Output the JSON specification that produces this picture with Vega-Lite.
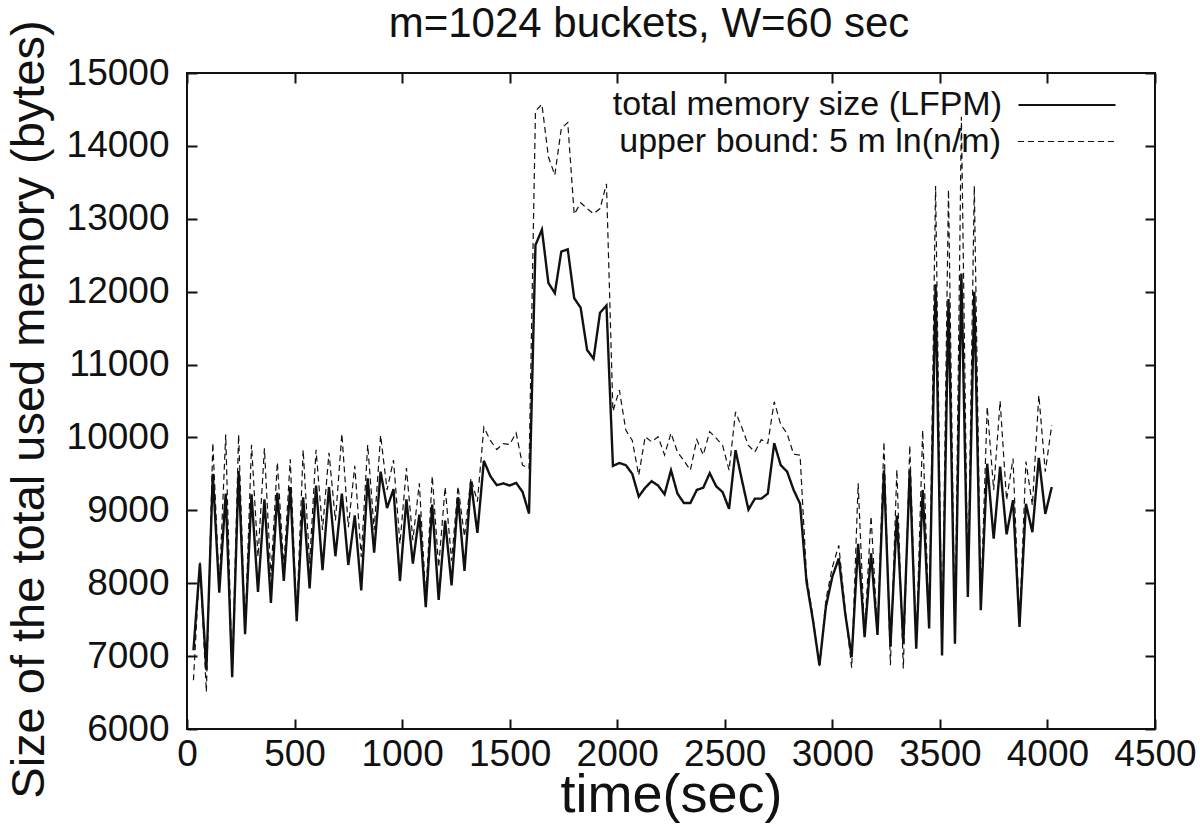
{
  "$schema": "https://vega.github.io/schema/vega-lite/v6.json",
  "autosize": {"type": "none"},
  "padding": {"left": 187, "top": 73, "right": 45, "bottom": 108},
  "width": 968,
  "height": 656,
  "background": "white",
  "config": {
    "font": "Liberation Sans",
    "view": {"stroke": "#111111", "strokeWidth": 2},
    "axis": {"domain": false, "grid": false, "tickColor": "#111111", "tickWidth": 2, "labelColor": "#111111", "titleColor": "#111111", "labelFont": "Liberation Sans", "titleFont": "Liberation Sans", "titleFontWeight": "normal", "labelFlush": false, "labelOverlap": false}
  },
  "title": {"text": "m=1024 buckets, W=60 sec", "fontSize": 42, "font": "Liberation Sans", "fontWeight": "normal", "color": "#111111", "anchor": "middle", "dx": -22, "offset": 0, "dy": 26},
  "data": {"values": [
    {"t":30,"lfpm":7080,"bound":6670},{"t":60,"lfpm":8270,"bound":8300},{"t":90,"lfpm":6810,"bound":6510},{"t":120,"lfpm":9500,"bound":9925},
    {"t":150,"lfpm":7870,"bound":7950},{"t":180,"lfpm":9230,"bound":10040},{"t":210,"lfpm":6710,"bound":6720},{"t":240,"lfpm":9540,"bound":10040},
    {"t":270,"lfpm":7300,"bound":7330},{"t":300,"lfpm":9220,"bound":9900},{"t":330,"lfpm":7880,"bound":8360},{"t":360,"lfpm":9150,"bound":9850},
    {"t":390,"lfpm":7730,"bound":8090},{"t":420,"lfpm":9240,"bound":9660},{"t":450,"lfpm":8030,"bound":8220},{"t":480,"lfpm":9320,"bound":9700},
    {"t":510,"lfpm":7480,"bound":7540},{"t":540,"lfpm":9180,"bound":9830},{"t":570,"lfpm":7930,"bound":8270},{"t":600,"lfpm":9340,"bound":9830},
    {"t":630,"lfpm":8180,"bound":8730},{"t":660,"lfpm":9320,"bound":9790},{"t":690,"lfpm":8370,"bound":8860},{"t":720,"lfpm":9230,"bound":10050},
    {"t":750,"lfpm":8250,"bound":8770},{"t":780,"lfpm":8930,"bound":9610},{"t":810,"lfpm":7900,"bound":8360},{"t":840,"lfpm":9440,"bound":9900},
    {"t":870,"lfpm":8420,"bound":8730},{"t":900,"lfpm":9530,"bound":10030},{"t":930,"lfpm":9030,"bound":9280},{"t":960,"lfpm":9290,"bound":9690},
    {"t":990,"lfpm":8030,"bound":8540},{"t":1020,"lfpm":9150,"bound":9580},{"t":1050,"lfpm":8270,"bound":8590},{"t":1080,"lfpm":8940,"bound":9370},
    {"t":1110,"lfpm":7670,"bound":7810},{"t":1140,"lfpm":9080,"bound":9470},{"t":1170,"lfpm":7770,"bound":8220},{"t":1200,"lfpm":8860,"bound":9320},
    {"t":1230,"lfpm":7970,"bound":8310},{"t":1260,"lfpm":9180,"bound":9330},{"t":1290,"lfpm":8170,"bound":8640},{"t":1320,"lfpm":9390,"bound":9440},
    {"t":1350,"lfpm":8690,"bound":9120},{"t":1380,"lfpm":9680,"bound":10140},{"t":1410,"lfpm":9470,"bound":9960},{"t":1440,"lfpm":9345,"bound":9834},
    {"t":1470,"lfpm":9370,"bound":9916},{"t":1500,"lfpm":9340,"bound":9903},{"t":1530,"lfpm":9377,"bound":10063},{"t":1560,"lfpm":9253,"bound":9619},
    {"t":1590,"lfpm":8956,"bound":9574},{"t":1620,"lfpm":12640,"bound":14480},{"t":1650,"lfpm":12850,"bound":14570},{"t":1680,"lfpm":12120,"bound":13850},
    {"t":1710,"lfpm":11980,"bound":13600},{"t":1740,"lfpm":12550,"bound":14240},{"t":1770,"lfpm":12580,"bound":14320},{"t":1800,"lfpm":11910,"bound":13060},
    {"t":1830,"lfpm":11780,"bound":13220},{"t":1860,"lfpm":11200,"bound":13140},{"t":1890,"lfpm":11080,"bound":13070},{"t":1920,"lfpm":11710,"bound":13140},
    {"t":1950,"lfpm":11810,"bound":13480},{"t":1980,"lfpm":9610,"bound":10360},{"t":2010,"lfpm":9650,"bound":10650},{"t":2040,"lfpm":9620,"bound":10100},
    {"t":2070,"lfpm":9500,"bound":9960},{"t":2100,"lfpm":9190,"bound":9480},{"t":2130,"lfpm":9310,"bound":10010},{"t":2160,"lfpm":9400,"bound":9940},
    {"t":2190,"lfpm":9340,"bound":10010},{"t":2220,"lfpm":9220,"bound":9760},{"t":2250,"lfpm":9550,"bound":10060},{"t":2280,"lfpm":9230,"bound":9800},
    {"t":2310,"lfpm":9100,"bound":9680},{"t":2340,"lfpm":9100,"bound":9550},{"t":2370,"lfpm":9280,"bound":9970},{"t":2400,"lfpm":9310,"bound":9760},
    {"t":2430,"lfpm":9510,"bound":10080},{"t":2460,"lfpm":9330,"bound":9990},{"t":2490,"lfpm":9250,"bound":9890},{"t":2520,"lfpm":9020,"bound":9550},
    {"t":2550,"lfpm":9825,"bound":10350},{"t":2580,"lfpm":9410,"bound":10130},{"t":2610,"lfpm":9010,"bound":9890},{"t":2640,"lfpm":9160,"bound":9800},
    {"t":2670,"lfpm":9160,"bound":9970},{"t":2700,"lfpm":9230,"bound":9920},{"t":2730,"lfpm":9920,"bound":10490},{"t":2760,"lfpm":9620,"bound":10180},
    {"t":2790,"lfpm":9530,"bound":10050},{"t":2820,"lfpm":9280,"bound":9770},{"t":2850,"lfpm":9090,"bound":9756},{"t":2880,"lfpm":8020,"bound":8100},
    {"t":2910,"lfpm":7490,"bound":7540},{"t":2940,"lfpm":6875,"bound":6850},{"t":2970,"lfpm":7675,"bound":7770},{"t":3000,"lfpm":8090,"bound":8220},
    {"t":3030,"lfpm":8340,"bound":8520},{"t":3060,"lfpm":7580,"bound":7630},{"t":3090,"lfpm":6990,"bound":6840},{"t":3120,"lfpm":8540,"bound":9370},
    {"t":3150,"lfpm":7260,"bound":7310},{"t":3180,"lfpm":8410,"bound":8920},{"t":3210,"lfpm":7290,"bound":7310},{"t":3240,"lfpm":9550,"bound":9940},
    {"t":3270,"lfpm":7130,"bound":6875},{"t":3300,"lfpm":8930,"bound":9560},{"t":3330,"lfpm":7170,"bound":6830},{"t":3360,"lfpm":9550,"bound":9890},
    {"t":3390,"lfpm":7100,"bound":7130},{"t":3420,"lfpm":9280,"bound":10100},{"t":3450,"lfpm":7380,"bound":7400},{"t":3480,"lfpm":12100,"bound":13450},
    {"t":3510,"lfpm":7010,"bound":7030},{"t":3540,"lfpm":11900,"bound":13400},{"t":3570,"lfpm":7170,"bound":7200},{"t":3600,"lfpm":12250,"bound":14400},
    {"t":3630,"lfpm":7810,"bound":7850},{"t":3660,"lfpm":12000,"bound":13450},{"t":3690,"lfpm":7630,"bound":7700},{"t":3720,"lfpm":9640,"bound":10420},
    {"t":3750,"lfpm":8610,"bound":9280},{"t":3780,"lfpm":9600,"bound":10500},{"t":3810,"lfpm":8670,"bound":9140},{"t":3840,"lfpm":9140,"bound":9710},
    {"t":3870,"lfpm":7400,"bound":7420},{"t":3900,"lfpm":9090,"bound":9670},{"t":3930,"lfpm":8700,"bound":9070},{"t":3960,"lfpm":9720,"bound":10580},
    {"t":3990,"lfpm":8950,"bound":9530},{"t":4020,"lfpm":9320,"bound":10170}
  ]},
  "transform": [{"fold": ["lfpm", "bound"], "as": ["series", "v"]}],
  "layer": [
    {
      "mark": {"type": "line", "color": "#111111", "strokeJoin": "miter"},
      "encoding": {
        "x": {"field": "t", "type": "quantitative", "scale": {"domain": [0, 4500], "nice": false},
              "axis": {"orient": "bottom", "values": [0,500,1000,1500,2000,2500,3000,3500,4000,4500], "format": "d", "tickSize": -10, "labelPadding": 17, "labelFontSize": 37, "title": "time(sec)", "titleFontSize": 54, "titlePadding": -4}},
        "y": {"field": "v", "type": "quantitative", "scale": {"domain": [6000, 15000], "nice": false, "zero": false},
              "axis": {"orient": "left", "values": [6000,7000,8000,9000,10000,11000,12000,13000,14000,15000], "format": "d", "tickSize": -10, "labelPadding": 28, "labelFontSize": 37, "title": "Size of the total used memory (bytes)", "titleFontSize": 47, "titlePadding": 13, "titleY": 336}},
        "strokeDash": {"field": "series", "type": "nominal",
              "scale": {"domain": ["lfpm", "bound"], "range": [[1, 0], [6, 4]]},
              "legend": {"orient": "none", "legendX": 830, "legendY": -18, "title": null, "padding": 0, "values": ["lfpm"],
                         "symbolType": "stroke", "symbolSize": 9409, "symbolStrokeColor": "#111111", "symbolStrokeWidth": 2.2, "symbolOpacity": 1,
                         "labelAlign": "right", "labelOffset": -115, "labelLimit": 700,
                         "labelFontSize": 34, "labelColor": "#111111", "labelFont": "Liberation Sans",
                         "labelExpr": "'total memory size (LFPM)'"}},
        "strokeWidth": {"field": "series", "type": "nominal", "scale": {"domain": ["bound", "lfpm"], "range": [1.2, 2.4]},
              "legend": {"orient": "none", "legendX": 830, "legendY": 19, "title": null, "padding": 0, "values": ["bound"],
                         "symbolType": "stroke", "symbolSize": 9409, "symbolStrokeColor": "#111111", "symbolDash": [6, 4], "symbolOpacity": 1,
                         "labelAlign": "right", "labelOffset": -115, "labelLimit": 700,
                         "labelFontSize": 34, "labelColor": "#111111", "labelFont": "Liberation Sans",
                         "labelExpr": "'upper bound: 5 m ln(n/m)'"}}
      }
    },
    {
      "mark": {"type": "line", "opacity": 0},
      "encoding": {
        "x": {"field": "t", "type": "quantitative", "axis": {"orient": "top", "values": [0,500,1000,1500,2000,2500,3000,3500,4000,4500], "tickSize": -10, "labels": false, "title": null}},
        "y": {"field": "v", "type": "quantitative", "axis": {"orient": "right", "values": [6000,7000,8000,9000,10000,11000,12000,13000,14000,15000], "tickSize": -10, "labels": false, "title": null}},
        "detail": {"field": "series", "type": "nominal"}
      }
    }
  ],
  "resolve": {"axis": {"x": "independent", "y": "independent"}}
}
